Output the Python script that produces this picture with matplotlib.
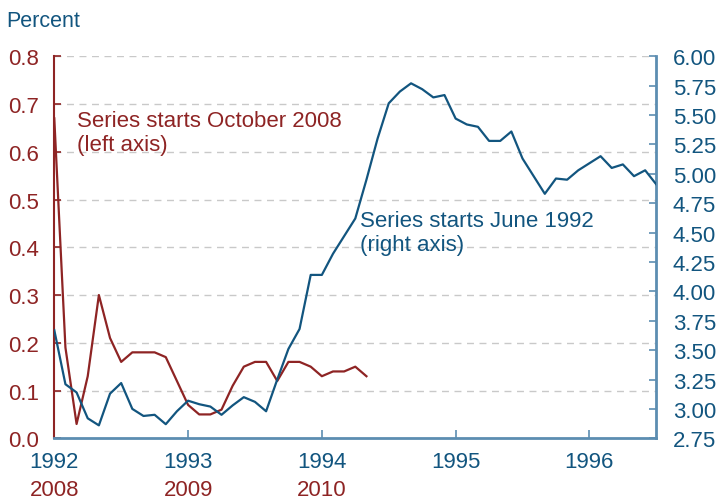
import matplotlib
matplotlib.use("Agg")
import matplotlib.pyplot as plt
import numpy as np

plt.rcParams['font.family'] = ['Liberation Sans', 'DejaVu Sans']

# Red series (left axis), monthly, starts October 2008
red_values = [0.67, 0.19, 0.03, 0.13, 0.30, 0.21, 0.16, 0.18, 0.18, 0.18,
              0.17, 0.12, 0.07, 0.05, 0.05, 0.06, 0.11, 0.15, 0.16, 0.16,
              0.12, 0.16, 0.16, 0.15, 0.13, 0.14, 0.14, 0.15, 0.13]
# Blue series (right axis), monthly, starts June 1992
blue_values = [3.67, 3.21, 3.14, 2.92, 2.86, 3.13, 3.22, 3.00, 2.94, 2.95,
               2.87, 2.98, 3.07, 3.04, 3.02, 2.95, 3.03, 3.10, 3.06, 2.98,
               3.25, 3.51, 3.68, 4.14, 4.14, 4.32, 4.47, 4.62, 4.95, 5.30,
               5.60, 5.70, 5.77, 5.72, 5.65, 5.67, 5.47, 5.42, 5.40, 5.28,
               5.28, 5.36, 5.13, 4.98, 4.83, 4.96, 4.95, 5.03, 5.09, 5.15,
               5.05, 5.08, 4.98, 5.03, 4.91]
blue_year_labels = ['1992', '1993', '1994', '1995', '1996']
red_year_labels = ['2008', '2009', '2010']
left_ticks = [0.0, 0.1, 0.2, 0.3, 0.4, 0.5, 0.6, 0.7, 0.8]
right_ticks = [2.75, 3.00, 3.25, 3.50, 3.75, 4.00, 4.25, 4.50, 4.75,
               5.00, 5.25, 5.50, 5.75, 6.00]

RED = '#8e2424'
BLUE = '#12557f'
SPINE_BLUE = '#5c8db1'
GRID = '#c9c9c9'

fig = plt.figure(figsize=(7.19, 5.02), dpi=100)
ax = fig.add_axes([0.0755, 0.1249, 0.8373, 0.761])
ax2 = ax.twinx()

ax.set_xlim(0, 54)
ax.set_ylim(0, 0.8)
ax2.set_ylim(2.75, 6.0)

for y in left_ticks[1:]:
    ax.axhline(y, color=GRID, lw=1.0, ls=(0, (5, 4)), zorder=0)

ax.plot(np.arange(len(red_values)), red_values, color=RED, lw=1.6, zorder=3)
ax2.plot(np.arange(len(blue_values)), blue_values, color=BLUE, lw=1.6, zorder=3)

# spines
for a in (ax, ax2):
    a.spines['top'].set_visible(False)
ax.spines['left'].set_color(RED)
ax.spines['left'].set_linewidth(1.5)
ax.spines['right'].set_visible(False)
ax.spines['bottom'].set_color(SPINE_BLUE)
ax.spines['bottom'].set_linewidth(2)
ax2.spines['left'].set_visible(False)
ax2.spines['bottom'].set_visible(False)
ax2.spines['right'].set_color(SPINE_BLUE)
ax2.spines['right'].set_linewidth(2)

ax.set_yticks(left_ticks)
ax.set_yticklabels([f'{v:.1f}' for v in left_ticks])
ax.tick_params(axis='y', direction='in', length=5, width=1.2, colors=RED,
               labelsize=16, pad=11)
ax2.set_yticks(right_ticks)
ax2.set_yticklabels([f'{v:.2f}' for v in right_ticks])
ax2.tick_params(axis='y', direction='in', length=5, width=1.2, colors=SPINE_BLUE,
                labelcolor=BLUE, labelsize=16, pad=12)

xt = [12 * i for i in range(len(blue_year_labels))]
ax.set_xticks(xt)
ax.set_xticklabels(blue_year_labels)
ax.tick_params(axis='x', direction='in', length=6, width=1.2, colors=SPINE_BLUE,
               labelcolor=BLUE, labelsize=16, pad=9)

for i, lab in enumerate(red_year_labels):
    ax.annotate(lab, xy=(12 * i, 0), xycoords=('data', 'axes fraction'),
                xytext=(0, -29), textcoords='offset points',
                ha='center', va='top', color=RED, fontsize=16)

fig.text(0.009, 0.958, 'Percent', color=BLUE, fontsize=15.5, va='center', ha='left')

ax.text(2.05, 0.688, 'Series starts October 2008\n(left axis)', color=RED,
        fontsize=16, va='top', ha='left', zorder=5)
ax.text(27.4, 0.478, 'Series starts June 1992\n(right axis)', color=BLUE,
        fontsize=16, va='top', ha='left', zorder=5)

fig.savefig('out.png', dpi=100)
